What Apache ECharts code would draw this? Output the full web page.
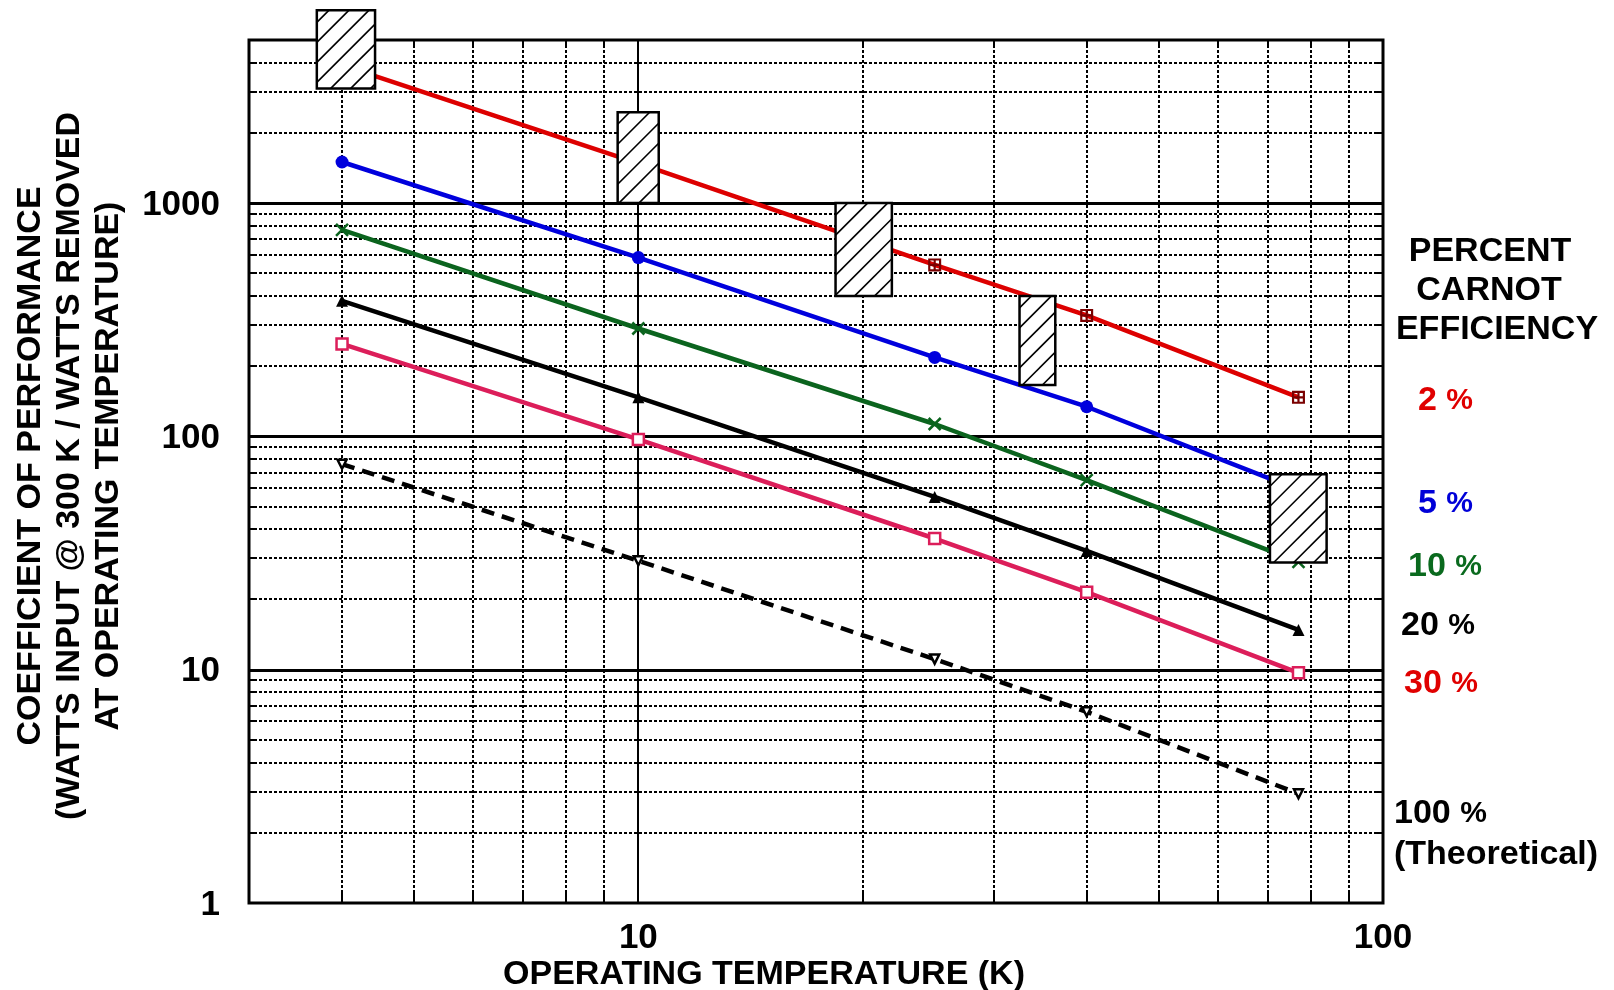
<!DOCTYPE html>
<html><head><meta charset="utf-8">
<script src="https://cdn.jsdelivr.net/npm/echarts@6/dist/echarts.min.js"></script>
<style>html,body{margin:0;padding:0;background:#fff}#c{width:1614px;height:990px}</style>
</head><body><div id="c"></div>
<script>
// ---- data ----
const temps = [4, 10, 25, 40, 77];
const cop2 = [3900, 1480, 543, 330, 147];
const cop5 = [1500, 584, 218, 134, 59];
const cop10 = [768, 290, 113, 65, 29];
const cop20 = [381, 147, 55, 32.3, 14.8];
const cop30 = [249, 97, 36.5, 21.5, 9.7];
const cop100 = [76, 29.3, 11.1, 6.6, 2.94];

// typical refrigerator ranges (hatched boxes)
const boxTmin = [3.7, 9.38, 18.4, 32.5, 70.5];
const boxTmax = [4.43, 10.65, 21.9, 36.3, 84];
const boxCopMin = [3100, 1000, 400, 166, 28.8];
const boxCopMax = [6700, 2450, 1000, 400, 68.8];

// grid and tick labels
const xMinorGrid = [4, 5, 6, 7, 8, 9, 20, 30, 40, 50, 60, 70, 80, 90];
const xMajorGrid = [10];
const yMinorGrid = [2, 3, 4, 5, 6, 7, 8, 9, 20, 30, 40, 50, 60, 70, 80, 90,
  200, 300, 400, 500, 600, 700, 800, 900, 2000, 3000, 4000];
const yMajorGrid = [10, 100, 1000];
const xTickLabels = [10, 100];
const yTickLabels = [1, 10, 100, 1000];

const legendLabels = ['2', '5', '10', '20', '30', '100'];

const FONT = '"Liberation Sans", Arial, Helvetica, sans-serif';
const chart = echarts.init(document.getElementById('c'), null, {renderer: 'canvas'});

function pairs(ys) { return temps.map((t, i) => [t, ys[i]]); }

const gridLineSeries = (vals, vertical, major) => ({
  type: 'custom', coordinateSystem: 'cartesian2d', silent: true, z: 1,
  data: vals.map(v => vertical ? [v, 1] : [3, v]),
  encode: {x: 0, y: 1},
  renderItem: function (params, api) {
    const cs = params.coordSys;
    const children = [];
    if (vertical) {
      const x = Math.round(api.coord([api.value(0), 1])[0]);
      if (major) {
        children.push({type: 'line', shape: {x1: x, y1: cs.y, x2: x, y2: cs.y + cs.height},
          style: {stroke: '#000', lineWidth: 2}});
      } else {
        children.push({type: 'line', shape: {x1: x, y1: cs.y, x2: x, y2: cs.y + cs.height},
          style: {stroke: '#000', lineWidth: 2, lineDash: [3, 2]}});
        children.push({type: 'line', shape: {x1: x, y1: cs.y + cs.height - 11, x2: x, y2: cs.y + cs.height},
          style: {stroke: '#000', lineWidth: 2}});
        children.push({type: 'line', shape: {x1: x, y1: cs.y, x2: x, y2: cs.y + 8},
          style: {stroke: '#000', lineWidth: 2}});
      }
    } else {
      const y = Math.round(api.coord([3, api.value(1)])[1]);
      if (major) {
        children.push({type: 'line', shape: {x1: cs.x, y1: y + 0.5, x2: cs.x + cs.width, y2: y + 0.5},
          style: {stroke: '#000', lineWidth: 3}});
      } else {
        children.push({type: 'line', shape: {x1: cs.x, y1: y, x2: cs.x + cs.width, y2: y},
          style: {stroke: '#000', lineWidth: 2, lineDash: [3, 2]}});
        children.push({type: 'line', shape: {x1: cs.x, y1: y, x2: cs.x + 8, y2: y},
          style: {stroke: '#000', lineWidth: 2}});
        children.push({type: 'line', shape: {x1: cs.x + cs.width - 8, y1: y, x2: cs.x + cs.width, y2: y},
          style: {stroke: '#000', lineWidth: 2}});
      }
    }
    return {type: 'group', children: children};
  }
});

function lineSeries(name, ys, color, symbol, size, itemStyle, lineExtra, extra) {
  return Object.assign({
    name: name, type: 'line', data: pairs(ys), z: 3,
    symbol: symbol, symbolSize: size, showAllSymbol: true,
    lineStyle: Object.assign({color: color, width: 4.5}, lineExtra || {}),
    itemStyle: itemStyle,
    emphasis: {disabled: true}, silent: true
  }, extra || {});
}

const redSym = 'path://M0,0H12V12H0Z M2,2V5H5V2Z M7,2V5H10V2Z M2,7V10H5V7Z M7,7V10H10V7Z';

const option = {
  animation: false,
  backgroundColor: '#fff',
  grid: {left: 249, right: 231, top: 40, bottom: 87, show: true,
    borderColor: '#000', borderWidth: 3, backgroundColor: 'transparent'},
  xAxis: {type: 'log', logBase: 10, min: 3, max: 100,
    axisLine: {show: false}, axisTick: {show: false}, axisLabel: {show: false}, splitLine: {show: false}},
  yAxis: {type: 'log', logBase: 10, min: 1, max: 5000,
    axisLine: {show: false}, axisTick: {show: false}, axisLabel: {show: false}, splitLine: {show: false}},
  series: [
    gridLineSeries(xMinorGrid, true, false),
    gridLineSeries(yMinorGrid, false, false),
    gridLineSeries(xMajorGrid, true, true),
    gridLineSeries(yMajorGrid, false, true),
    lineSeries('2 %', cop2, '#dd0000', redSym, 13, {color: '#7a0000'}),
    lineSeries('5 %', cop5, '#0000dd', 'circle', 13, {color: '#0000dd'}),
    lineSeries('10 %', cop10, '#0b641e', 'path://M0,0L10,10M10,0L0,10', 12,
      {color: 'none', borderColor: '#0b641e', borderWidth: 2.5}),
    lineSeries('20 %', cop20, '#000000', 'triangle', 12, {color: '#000'}),
    lineSeries('30 %', cop30, '#dc1e5a', 'rect', 11,
      {color: '#fff', borderColor: '#dc1e5a', borderWidth: 2.5}),
    lineSeries('100 %', cop100, '#000000', 'triangle', 9,
      {color: '#fff', borderColor: '#000', borderWidth: 2.5}, {type: [13, 8], width: 4.5},
      {symbolRotate: 180}),
    {
      type: 'custom', coordinateSystem: 'cartesian2d', silent: true, z: 5,
      data: boxTmin.map((t, i) => [t, boxTmax[i], boxCopMin[i], boxCopMax[i]]),
      encode: {x: [0, 1], y: [2, 3]},
      renderItem: function (params, api) {
        const p1 = api.coord([api.value(0), api.value(3)]);
        const p2 = api.coord([api.value(1), api.value(2)]);
        const x0 = p1[0], y0 = p1[1], x1 = p2[0], y1 = p2[1];
        const children = [{type: 'rect', shape: {x: x0, y: y0, width: x1 - x0, height: y1 - y0},
          style: {fill: '#fff', stroke: null}}];
        const step = 20;
        for (let c = x0 + y0 + step * 0.6; c < x1 + y1; c += step) {
          const xa = Math.max(x0, c - y1), xb = Math.min(x1, c - y0);
          if (xb > xa) children.push({type: 'line', shape: {x1: xa, y1: c - xa, x2: xb, y2: c - xb},
            style: {stroke: '#000', lineWidth: 1.6}});
        }
        children.push({type: 'rect', shape: {x: x0, y: y0, width: x1 - x0, height: y1 - y0},
          style: {fill: null, stroke: '#000', lineWidth: 2.5}});
        return {type: 'group', children: children};
      }
    },
    {
      type: 'custom', coordinateSystem: 'cartesian2d', silent: true, z: 6,
      data: xTickLabels.map(v => [v, 1]), encode: {x: 0, y: 1},
      renderItem: function (params, api) {
        const p = api.coord([api.value(0), 1]);
        return {type: 'text', x: p[0], y: p[1] + 35,
          style: {text: String(api.value(0)), fontSize: 35, fontWeight: 'bold', fontFamily: FONT,
            fill: '#000', align: 'center', verticalAlign: 'middle'}};
      }
    },
    {
      type: 'custom', coordinateSystem: 'cartesian2d', silent: true, z: 6,
      data: yTickLabels.map(v => [3, v]), encode: {x: 0, y: 1},
      renderItem: function (params, api) {
        const p = api.coord([3, api.value(1)]);
        return {type: 'text', x: p[0] - 29, y: p[1] + 2,
          style: {text: String(api.value(1)), fontSize: 35, fontWeight: 'bold', fontFamily: FONT,
            fill: '#000', align: 'right', verticalAlign: 'middle'}};
      }
    }
  ],
  graphic: [
    {type: 'text', x: 764, y: 975, z: 10,
      style: {text: 'OPERATING TEMPERATURE (K)', fontSize: 34, fontWeight: 'bold', fontFamily: FONT,
        fill: '#000', align: 'center', verticalAlign: 'middle'}},
    {type: 'text', x: 70, y: 466, rotation: Math.PI / 2, z: 10,
      style: {text: 'COEFFICIENT OF PERFORMANCE\n(WATTS INPUT @ 300 K / WATTS REMOVED\nAT OPERATING TEMPERATURE)',
        fontSize: 34, fontWeight: 'bold', fontFamily: FONT, lineHeight: 39,
        fill: '#000', align: 'center', verticalAlign: 'middle'}},
    {type: 'text', x: 1490, y: 252, z: 10,
      style: {text: 'PERCENT', fontSize: 34, fontWeight: 'bold', fontFamily: FONT, fill: '#000', align: 'center', verticalAlign: 'middle'}},
    {type: 'text', x: 1489, y: 291, z: 10,
      style: {text: 'CARNOT', fontSize: 34, fontWeight: 'bold', fontFamily: FONT, fill: '#000', align: 'center', verticalAlign: 'middle'}},
    {type: 'text', x: 1497, y: 330, z: 10,
      style: {text: 'EFFICIENCY', fontSize: 34, fontWeight: 'bold', fontFamily: FONT, fill: '#000', align: 'center', verticalAlign: 'middle'}}
  ].concat([
    [legendLabels[0], 1418, 401, '#e00000'],
    [legendLabels[1], 1418, 504, '#0000d8'],
    [legendLabels[2], 1408, 567, '#0a6a1e'],
    [legendLabels[3], 1401, 626, '#000000'],
    [legendLabels[4], 1404, 684, '#e00000'],
    [legendLabels[5], 1394, 814, '#000000']
  ].map(function (d) {
    return {type: 'text', x: d[1], y: d[2], z: 10,
      style: {text: '{n|' + d[0] + '} {p|%}', fill: d[3], align: 'left', verticalAlign: 'middle',
        fontSize: 34, fontWeight: 'bold', fontFamily: FONT,
        rich: {
          n: {fontSize: 34, fontWeight: 'bold', fontFamily: FONT, fill: d[3]},
          p: {fontSize: 30, fontWeight: 'bold', fontFamily: '"Liberation Sans Narrow", ' + FONT, fill: d[3]}
        }}};
  })).concat([
    {type: 'text', x: 1394, y: 855, z: 10,
      style: {text: '(Theoretical)', fontSize: 34, fontWeight: 'bold', fontFamily: FONT, fill: '#000', align: 'left', verticalAlign: 'middle'}}
  ])
};
chart.setOption(option);
</script>
</body></html>
